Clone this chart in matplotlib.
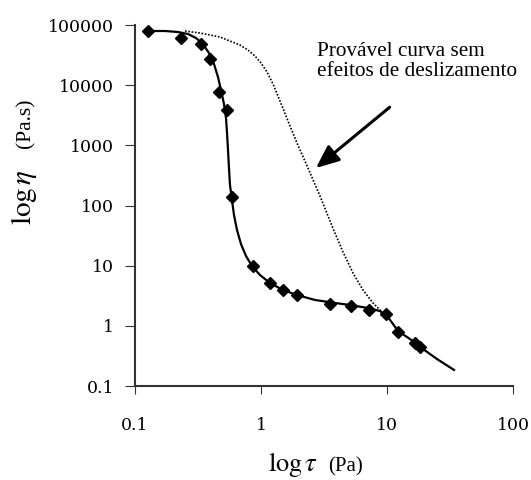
import matplotlib
matplotlib.use("Agg")
import matplotlib.pyplot as plt

# measured points (shear stress Pa, viscosity Pa.s)
tau_pts = [0.127, 0.232, 0.334, 0.394, 0.464, 0.537, 0.589, 0.865, 1.18,
           1.50, 1.93, 3.53, 5.18, 7.19, 9.8, 12.2, 16.7, 18.3]
eta_pts = [79000, 60800, 48000, 27000, 7600, 3800, 141, 9.9, 5.15,
           3.94, 3.26, 2.33, 2.15, 1.85, 1.57, 0.79, 0.52, 0.445]

# fitted curve (solid)
tau_fit = [0.1268, 0.1729, 0.2195, 0.2634, 0.3049, 0.3465, 0.3866, 0.4236,
           0.4557, 0.4814, 0.5085, 0.5275, 0.5372, 0.5472, 0.5572, 0.5675,
           0.5886, 0.6105, 0.6449, 0.694, 0.7603, 0.8485, 0.982, 1.179,
           1.495, 1.931, 2.683, 3.867, 5.085, 7.07, 8.80, 10.18, 12.23,
           15.22, 19.31, 24.94, 34.02]
eta_fit = [79500, 79500, 76500, 70900, 60800, 48300, 34200, 22500,
           13700, 8310, 4870, 2850, 1670, 837, 420, 219,
           123, 69.6, 39.2, 22.9, 14.5, 9.88, 7.00, 5.15,
           3.94, 3.26, 2.69, 2.40, 2.22, 1.98, 1.76, 1.40, 0.821,
           0.604, 0.412, 0.281, 0.185]

# probable curve without slip (dotted)
tau_noslip = [0.2493, 0.328, 0.4727, 0.681, 0.7886, 0.8962, 1.0, 1.116,
              1.245, 1.415, 1.638, 1.931, 2.360, 2.940, 3.661, 4.476,
              5.373, 6.45, 7.74, 9.30]
eta_noslip = [79500, 73600, 63200, 46500, 38400, 30500, 23400, 16600,
              10500, 5460, 2540, 1094, 420, 144, 45.6, 16.9,
              7.55, 3.94, 2.40, 1.64]

yticks = [0.1, 1, 10, 100, 1000, 10000, 100000]
ytick_labels = ["0.1", "1", "10", "100", "1000", "10000", "100000"]
xticks = [0.1, 1, 10, 100]
xtick_labels = ["0.1", "1", "10", "100"]

plt.rcParams['mathtext.fontset'] = 'stix'

fig = plt.figure(figsize=(5.31, 4.8), dpi=100)
ax = fig.add_axes([0.2542, 0.1958, 0.7119, 0.7521])

ax.plot(tau_noslip, eta_noslip, color='black', lw=1.2, linestyle=(0, (1, 1)))
ax.plot(tau_fit, eta_fit, color='black', lw=1.6)
ax.plot(tau_pts, eta_pts, linestyle='none', marker='D', color='black',
        markersize=6)

ax.set_xscale('log')
ax.set_yscale('log')
ax.set_xlim(0.1, 100)
ax.set_ylim(0.1, 100000)
ax.set_xticks(xticks)
ax.set_xticklabels(xtick_labels, family='DejaVu Serif', fontsize=12.5)
ax.set_yticks(yticks)
ax.set_yticklabels(ytick_labels, family='DejaVu Serif', fontsize=12.5)
ax.minorticks_off()
ax.tick_params(axis='x', direction='out', length=6, pad=16, color='#333333')
ax.tick_params(axis='y', direction='out', length=7, pad=8, color='#333333')

for s in ['top', 'right']:
    ax.spines[s].set_visible(False)
for s in ['left', 'bottom']:
    ax.spines[s].set_color('#333333')
    ax.spines[s].set_linewidth(1.5)

# axis labels
fig.text(268 / 531, 1 - 471 / 480, r'$\log\tau$', fontsize=19,
         ha='left', va='baseline')
fig.text(328 / 531, 1 - 471 / 480, '(Pa)', fontsize=15,
         family='Liberation Serif', ha='left', va='baseline')
fig.text(31 / 531, 1 - 225 / 480, r'$\log\eta$', fontsize=21,
         rotation=90, ha='left', va='baseline', rotation_mode='anchor')
fig.text(30 / 531, 1 - 148 / 480, '(Pa.s)', fontsize=15.5,
         family='Liberation Serif', rotation=90, ha='left', va='baseline',
         rotation_mode='anchor')

# annotation
ax.annotate('', xy=(2.73, 420), xytext=(10.5, 4300),
            arrowprops=dict(arrowstyle='-|>,head_length=1.4,head_width=0.6',
                            color='black', lw=2.2, shrinkA=0, shrinkB=0))
fig.text(317 / 531, 1 - 76 / 480, 'Provável curva sem\nefeitos de deslizamento',
         fontsize=15.3, family='Liberation Serif', ha='left', va='baseline',
         linespacing=1.07)

fig.savefig('out.png', dpi=100)
